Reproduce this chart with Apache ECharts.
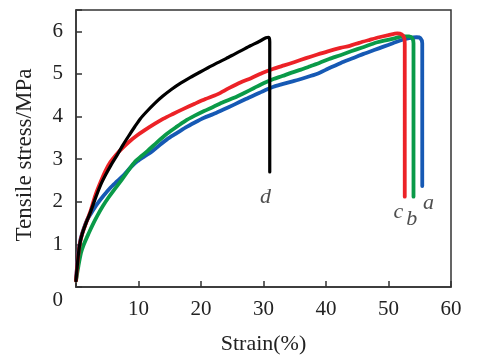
<!DOCTYPE html>
<html><head><meta charset="utf-8">
<script src="https://cdn.jsdelivr.net/npm/echarts@6/dist/echarts.min.js"></script>
<style>html,body{margin:0;padding:0;background:#fff}#c{width:477px;height:360px}</style>
</head><body><div id="c"></div>
<script>
// strain (%) , stress (MPa)
const curveA = [[0,0.15],[0.3,0.7],[0.7,1.1],[1.2,1.35],[1.8,1.58],[2.5,1.75],[3.4,1.95],[4.4,2.14],[5.5,2.33],[6.5,2.47],[7.6,2.62],[8.7,2.8],[9.8,2.95],[11,3.07],[12,3.16],[13.3,3.32],[14.6,3.47],[16,3.6],[17.5,3.74],[19,3.86],[20.5,3.97],[22,4.06],[23.5,4.16],[25.3,4.28],[27,4.4],[28.5,4.5],[30,4.6],[31.6,4.70],[33,4.76],[34.5,4.82],[36,4.88],[37.5,4.95],[39,5.03],[40.3,5.12],[41.5,5.2],[43,5.3],[44.5,5.38],[46,5.47],[47.7,5.56],[49.2,5.64],[50.7,5.72],[52,5.79],[53.3,5.84],[54.5,5.86],[55.1,5.84],[55.4,5.72],[55.4,2.37]];
const curveB = [[0,0.15],[0.4,0.5],[0.8,0.8],[1.2,0.98],[2,1.25],[2.7,1.47],[3.4,1.67],[4.3,1.9],[5.2,2.1],[6.1,2.28],[7.1,2.47],[8.3,2.72],[9.5,2.95],[10.3,3.05],[11.5,3.2],[13,3.4],[14.6,3.6],[16,3.75],[17.5,3.9],[19,4.02],[20.5,4.13],[22,4.23],[23.6,4.34],[25.3,4.44],[27,4.56],[28.5,4.67],[30,4.78],[31.6,4.88],[33,4.95],[34.5,5.03],[36,5.1],[37.5,5.18],[39,5.26],[40.5,5.35],[42.3,5.44],[44,5.53],[45.8,5.62],[47.7,5.72],[49.3,5.78],[50.8,5.83],[52.4,5.88],[53.3,5.88],[53.8,5.84],[54.0,5.72],[54.0,2.12]];
const curveC = [[0,0.15],[0.3,0.65],[0.6,1.0],[1,1.25],[1.6,1.5],[2.3,1.77],[3.1,2.15],[3.9,2.45],[4.7,2.72],[5.5,2.93],[6.4,3.1],[7.5,3.27],[8.6,3.42],[9.8,3.56],[11,3.68],[12.5,3.82],[14,3.95],[15.5,4.06],[17.2,4.18],[19,4.3],[20.7,4.41],[22.6,4.52],[24.4,4.66],[26.3,4.8],[28,4.9],[29.8,5.02],[31.6,5.12],[33.3,5.2],[35,5.28],[36.8,5.37],[38.5,5.45],[40.3,5.53],[42.3,5.61],[43.8,5.66],[45.3,5.73],[47,5.8],[48.5,5.86],[50,5.91],[51.4,5.95],[52.1,5.93],[52.5,5.85],[52.6,5.7],[52.6,2.12]];
const curveD = [[0,0.15],[0.3,0.65],[0.6,1.0],[1,1.25],[1.6,1.5],[2.3,1.75],[3.1,2.08],[3.9,2.38],[4.7,2.62],[5.6,2.86],[6.6,3.1],[7.5,3.33],[8.5,3.56],[9.4,3.76],[10.3,3.95],[11.4,4.13],[12.6,4.31],[13.9,4.48],[15.3,4.64],[16.8,4.79],[18.3,4.92],[19.8,5.04],[21.2,5.15],[22.6,5.26],[24,5.36],[25.3,5.46],[26.6,5.56],[27.9,5.66],[29.3,5.76],[30.4,5.85],[30.85,5.86],[31.0,5.75],[31.0,2.70]];
const curveNames = ['a','b','c','d'];
const labelPos = [[56.4,1.97],[53.7,1.6],[51.6,1.75],[30.3,2.1]];
const xTicks = [0,10,20,30,40,50,60];
const yTicks = [0,1,2,3,4,5,6];

const colors = ['#1659b4','#0a9a48','#ec2227','#000000'];
const serif = '"Liberation Serif","DejaVu Serif",serif';
const chart = echarts.init(document.getElementById('c'));
const curves = [curveA, curveB, curveC, curveD];
const order = [1,0,3,2];
const series = order.map(i => ({
  type:'line', data: curves[i], showSymbol:false, symbol:'none', smooth:0.25,
  lineStyle:{color:colors[i], width: i===3?3.2:3.8, cap:'round', join:'round'}, z: 2+i, animation:false
}));
series.push({
  type:'scatter', symbolSize:0, animation:false,
  data: curveNames.map((n,i)=>({name:n, value:labelPos[i]})),
  label:{show:true, position:'inside', formatter:p=>p.name, color:'#222', fontFamily:serif, fontStyle:'italic', fontSize:22}
});
chart.setOption({
  animation:false,
  grid:{left:76, top:10, right:26, bottom:71, show:true, borderColor:'#333', borderWidth:1.5, backgroundColor:'transparent'},
  xAxis:{type:'value', min:0, max:60, interval:10, name:'Strain(%)', nameLocation:'middle', nameGap:46,
    nameTextStyle:{fontFamily:serif, fontSize:22, color:'#222'},
    axisLine:{lineStyle:{color:'#333', width:1.5}}, axisTick:{inside:true, length:6, lineStyle:{color:'#333', width:1.5}},
    splitLine:{show:false},
    axisLabel:{margin:12, fontFamily:serif, fontSize:21, color:'#222', formatter:v=> xTicks.indexOf(v)<=0?'':String(v)}},
  yAxis:{type:'value', min:0, max:6.5, interval:1, name:'Tensile stress/MPa', nameLocation:'middle', nameGap:40,
    nameTextStyle:{fontFamily:serif, fontSize:23, color:'#222', padding:[0,13,0,0]},
    axisLine:{lineStyle:{color:'#333', width:1.5}}, axisTick:{inside:true, length:6, lineStyle:{color:'#333', width:1.5}},
    splitLine:{show:false}, showMaxLabel:false,
    axisLabel:{margin:13, fontFamily:serif, fontSize:21, color:'#222',
      formatter:v=> yTicks.indexOf(v)<0 ? '' : (v===0?'{z|0}':String(v)),
      rich:{z:{fontFamily:serif, fontSize:21, color:'#222', padding:[26,0,0,0]}}}},
  series: series
});
</script></body></html>
